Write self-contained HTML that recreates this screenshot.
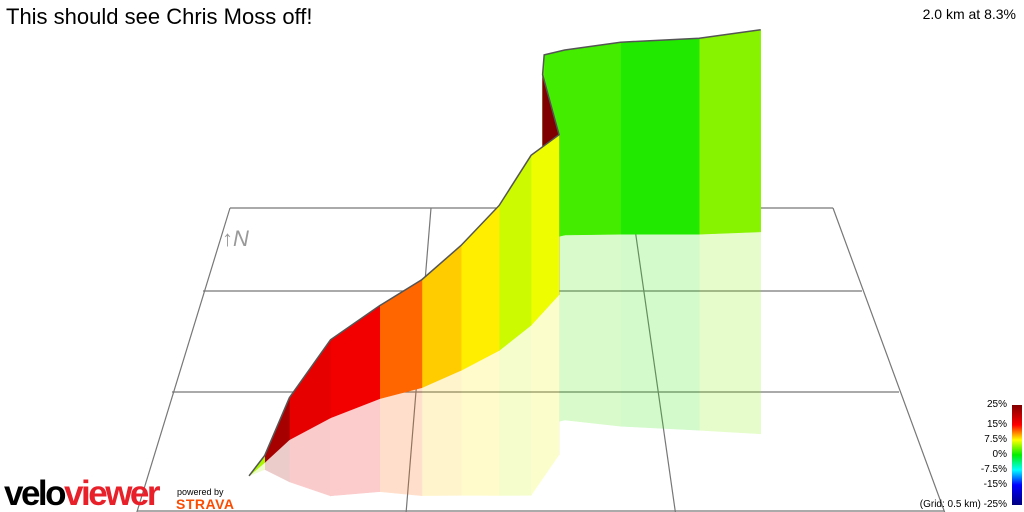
<!DOCTYPE html>
<html><head><meta charset="utf-8">
<style>
body{margin:0;background:#fff;font-family:"Liberation Sans",Arial,sans-serif;}
#wrap{position:relative;width:1024px;height:512px;overflow:hidden;}
.t{position:absolute;white-space:nowrap;}
</style></head>
<body>
<div id="wrap">
<svg id="c" width="1024" height="512" style="position:absolute;left:0;top:0">
  <defs>
    <linearGradient id="lg" x1="0" y1="0" x2="0" y2="1">
      <stop offset="0" stop-color="#800000"/>
      <stop offset="0.2" stop-color="#ff0000"/>
      <stop offset="0.35" stop-color="#ffff00"/>
      <stop offset="0.5" stop-color="#00ee00"/>
      <stop offset="0.65" stop-color="#00ffff"/>
      <stop offset="0.8" stop-color="#0000ff"/>
      <stop offset="1" stop-color="#000080"/>
    </linearGradient>
  </defs>
  <g id="grid"></g>
  <g id="refl" opacity="0.2"></g>
  <g id="wall"></g>
  <text x="222" y="246" font-size="22" fill="#999" font-style="italic" font-family="Liberation Sans, sans-serif">↑N</text>
  <rect x="1012" y="405" width="10" height="100" fill="url(#lg)"/>
</svg>
<div class="t" style="left:6px;top:4px;font-size:22px;color:#000">This should see Chris Moss off!</div>
<div class="t" style="right:8px;top:6px;font-size:14px;color:#000">2.0 km at 8.3%</div>
<div id="legend"></div>
<div class="t" style="left:4px;top:476px;font-size:35px;font-weight:bold;letter-spacing:-2.5px;line-height:36px"><span style="color:#000">velo</span><span style="color:#e8202a">viewer</span></div>
<div class="t" style="left:177px;top:487px;font-size:9px;color:#000">powered by</div>
<div class="t" style="left:176px;top:496px;font-size:14px;font-weight:bold;color:#fc4c02;letter-spacing:0.5px">STRAVA</div>
</div>
<script>
// route data: ground position (grid units, 0.5 km per cell) and elevation
const groundX = [0.39,0.44,0.52,0.67,0.86,1.03,1.19,1.35,1.49,1.62,1.55,1.56,1.66,1.93,2.31,2.61];
const groundY = [2.72,2.61,2.42,2.23,2.06,1.96,1.80,1.61,1.36,1.04,0.67,0.41,0.35,0.34,0.34,0.31];
const elevation = [0,7,42,78,93,108,125,145,170,160,187,185,185,192,196,202];
const gradients = [5,22,17,16,12,9,8,6,7,25,3,2,2,1,4];
const legendLabels = ["25%","15%","7.5%","0%","-7.5%","-15%","(Grid: 0.5 km) -25%"];
const legendValues = [25,15,7.5,0,-7.5,-15,-25];

const NS="http://www.w3.org/2000/svg";
function py(g){return 208+74*g+9*g*g;}
function leftEdge(g){return 230-25*g-2*g*g;}
function wid(g){return 603+50*g+6*g*g;}
function px(gx,g){return leftEdge(g)+wid(g)*gx/3;}
function hScale(g){return 1;}
function colorFor(v){
  const stops=[[-25,[0,0,128]],[-15,[0,0,255]],[-7.5,[0,255,255]],[0,[0,230,0]],[7.5,[255,255,0]],[15,[255,0,0]],[25,[128,0,0]]];
  if(v<=-25)return "rgb(0,0,128)"; if(v>=25)return "rgb(128,0,0)";
  for(let i=0;i<stops.length-1;i++){const a=stops[i],b=stops[i+1];
    if(v>=a[0]&&v<=b[0]){const t=(v-a[0])/(b[0]-a[0]);
      const c=a[1].map((x,k)=>Math.round(x+(b[1][k]-x)*t));return `rgb(${c})`;}}
}
const gridG=document.getElementById('grid');
for(let r=0;r<=3;r++){
  const l=document.createElementNS(NS,'line');
  l.setAttribute('x1',px(0,r));l.setAttribute('x2',px(3,r));
  l.setAttribute('y1',py(r));l.setAttribute('y2',py(r));
  l.setAttribute('stroke','#777');l.setAttribute('stroke-width','1.2');
  
  
  gridG.appendChild(l);
}
for(let c=0;c<=3;c++){
  const l=document.createElementNS(NS,'line');
  l.setAttribute('x1',px(c,0));l.setAttribute('y1',py(0));
  l.setAttribute('x2',px(c,3.1));l.setAttribute('y2',py(3.1));
  l.setAttribute('stroke','#777');l.setAttribute('stroke-width','1.2');
  
  
  gridG.appendChild(l);
}
const wallG=document.getElementById('wall'),reflG=document.getElementById('refl');
const N=groundX.length;
const bx=[],by=[],ty=[];
for(let i=0;i<N;i++){bx.push(px(groundX[i],groundY[i]));by.push(py(groundY[i]));ty.push(py(groundY[i])-elevation[i]*hScale(groundY[i]));}
for(let i=N-2;i>=0;i--){
  const col=colorFor(gradients[i]);
  const p=document.createElementNS(NS,'polygon');
  p.setAttribute('points',`${bx[i]},${ty[i]} ${bx[i+1]},${ty[i+1]} ${bx[i+1]},${by[i+1]} ${bx[i]},${by[i]}`);
  p.setAttribute('fill',col);p.setAttribute('stroke',col);p.setAttribute('stroke-width','0.6');
  
  
  wallG.appendChild(p);
  const q=document.createElementNS(NS,'polygon');
  q.setAttribute('points',`${bx[i]},${by[i]} ${bx[i+1]},${by[i+1]} ${bx[i+1]},${2*by[i+1]-ty[i+1]} ${bx[i]},${2*by[i]-ty[i]}`);
  q.setAttribute('fill',col);q.setAttribute('stroke',col);q.setAttribute('stroke-width','0.6');
  
  
  reflG.appendChild(q);
}
const topLine=document.createElementNS(NS,'polyline');
topLine.setAttribute('points',bx.map((x,i)=>x+','+ty[i]).join(' '));
topLine.setAttribute('fill','none');topLine.setAttribute('stroke','#555');topLine.setAttribute('stroke-width','1.5');


wallG.appendChild(topLine);
const legendDiv=document.getElementById('legend');
legendValues.forEach((v,i)=>{
  const d=document.createElement('div');
  d.className='t';
  d.textContent=legendLabels[i];
  d.style.right='17px';d.style.fontSize='10px';
  d.style.top=(505-(v+25)/50*100-6)+'px';
  
  
  legendDiv.appendChild(d);
});
</script>
</body></html>
